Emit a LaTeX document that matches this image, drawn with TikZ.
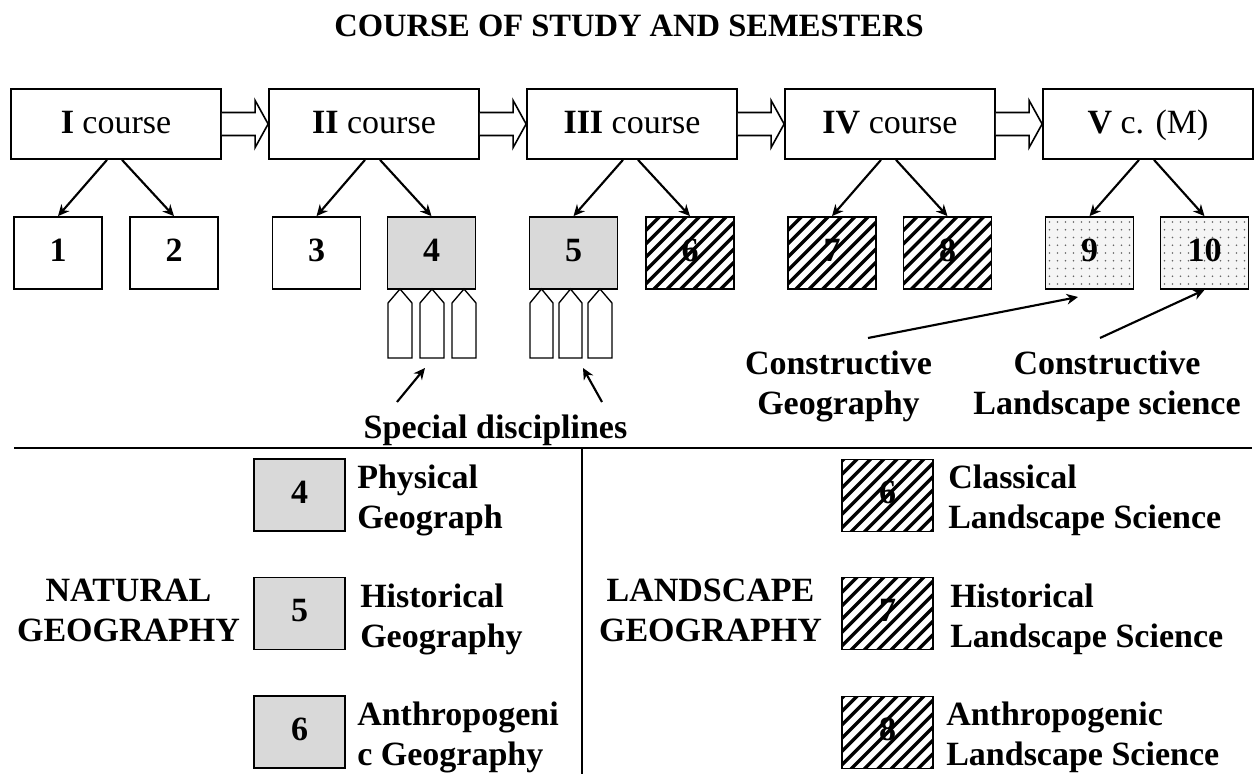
\documentclass[tikz,border=0pt]{standalone}
\usepackage{fontspec}
\setmainfont{Liberation Serif}
\usetikzlibrary{arrows.meta,calc}

\newcommand{\blkarrow}[2]{%
  \draw[blockarr] ($(#1.east)+(0,-11.5)$) -- ($(#2.west)+(-13,-11.5)$) -- ($(#2.west)+(-13,-23.5)$) -- (#2.west) -- ($(#2.west)+(-13,23.5)$) -- ($(#2.west)+(-13,11.5)$) -- ($(#1.east)+(0,11.5)$);}
\newcommand{\pentshape}[2]{%
  \draw[line width=1pt, fill=white] (#1,358) -- (#1,303) -- ({(#1+#2)/2},289) -- (#2,303) -- (#2,358) -- cycle;}

\begin{document}
\begin{tikzpicture}[x=0.75pt,y=-0.75pt,
  every node/.style={inner sep=0pt, font=\fontsize{25.5}{30}\selectfont},
  bold/.style={font=\fontsize{25.5}{30}\selectfont\bfseries},
  coursebox/.style={draw, line width=1.3pt, minimum width=157.5pt, minimum height=52.5pt, text height=20pt, text depth=6.5pt},
  numbox/.style={draw, line width=1.3pt, minimum width=66pt, minimum height=54pt, bold, text height=18pt, text depth=6pt},
  legbox/.style={numbox, minimum width=68.25pt},
  grayfill/.style={fill=gray!30},
  hatched/.style={fill=white, path picture={
      \foreach \k in {-10,...,10}{
        \draw[line width=2.5pt] ($(path picture bounding box.center)+(\k*10pt,0pt)+(-60pt,-60pt)$) -- ++(120pt,120pt);}}},
  dotbox/.style={fill=black!4, path picture={
      \foreach \i in {-7,...,7}{\foreach \j in {-6,...,6}{
        \fill[black!60] ($(path picture bounding box.center)+(\i*6pt,\j*5.8pt)$) circle[radius=0.65pt];}}}},
  arr/.style={line width=1.6pt, -{Stealth[length=8.5pt,width=8pt]}},
  blockarr/.style={draw, line width=1.2pt, fill=white},
  legtext/.style={align=left, anchor=west, bold},
  grouptext/.style={align=center, bold},
  divider/.style={line width=1.2pt}
  ]
\useasboundingbox (0,0) rectangle (1258,774);

% title
\node (title) [anchor=base, font=\fontsize{24.4}{29}\selectfont\bfseries] at (629,37) {COURSE OF STUDY AND SEMESTERS};

% courses
\node (c1) [coursebox] at (116,124) {\textbf{I} course};
\node (c2) [coursebox] at (374,124) {\textbf{II} course};
\node (c3) [coursebox] at (632,124) {\textbf{III} course};
\node (c4) [coursebox] at (890,124) {\textbf{IV} course};
\node (c5) [coursebox] at (1148,124) {\textbf{V} c. (M)};

\blkarrow{c1}{c2}
\blkarrow{c2}{c3}
\blkarrow{c3}{c4}
\blkarrow{c4}{c5}

% semesters
\node (n1) [numbox] at (58,253) {1};
\node (n2) [numbox] at (174,253) {2};
\node (n3) [numbox] at (316.5,253) {3};
\node (n4) [numbox, grayfill] at (431.5,253) {4};
\node (n5) [numbox, grayfill] at (573.5,253) {5};
\node (n6) [numbox, hatched] at (690,253) {6};
\node (n7) [numbox, hatched] at (832,253) {7};
\node (n8) [numbox, hatched] at (947.5,253) {8};
\node (n9) [numbox, dotbox] at (1089.5,253) {9};
\node (n10) [numbox, dotbox] at (1204.5,253) {10};

\draw[arr] ([xshift=-6.75pt]c1.south) -- (n1.north);
\draw[arr] ([xshift=4.5pt]c1.south) -- (n2.north);
\draw[arr] ([xshift=-6.75pt]c2.south) -- (n3.north);
\draw[arr] ([xshift=4.5pt]c2.south) -- (n4.north);
\draw[arr] ([xshift=-6.75pt]c3.south) -- (n5.north);
\draw[arr] ([xshift=4.5pt]c3.south) -- (n6.north);
\draw[arr] ([xshift=-6.75pt]c4.south) -- (n7.north);
\draw[arr] ([xshift=4.5pt]c4.south) -- (n8.north);
\draw[arr] ([xshift=-6.75pt]c5.south) -- (n9.north);
\draw[arr] ([xshift=4.5pt]c5.south) -- (n10.north);

% special disciplines
\pentshape{388}{412}
\pentshape{420}{444}
\pentshape{452}{476}
\pentshape{530}{553}
\pentshape{559}{582}
\pentshape{588}{612}

\node (sd) [anchor=base, bold] at (495.5,438) {Special disciplines};
\coordinate (sdA) at (397,402);
\coordinate (sdAe) at (425,368);
\coordinate (sdB) at (602,402);
\coordinate (sdBe) at (583,368);
\draw[arr] (sdA) -- (sdAe);
\draw[arr] (sdB) -- (sdBe);

% constructive
\node (cg) [grouptext] at (838.5,386) {Constructive\\Geography};
\node (cl) [grouptext] at (1107,386) {Constructive\\Landscape science};
\coordinate (cgA) at (868,338);
\coordinate (cgAe) at (1078,297);
\coordinate (clA) at (1100,338);
\draw[arr] (cgA) -- (cgAe);
\draw[arr] (clA) -- (n10.south);

% dividers
\coordinate (hl) at (14,448);
\coordinate (hr) at (1252,448);
\coordinate (vt) at (582,448);
\coordinate (vb) at (582,774);
\draw[divider] (hl) -- (hr);
\draw[divider] (vt) -- (vb);

% legend left
\node (natural) [grouptext] at (128.5,610) {NATURAL\\GEOGRAPHY};
\node (l4) [legbox, grayfill] at (299.5,495) {4};
\node (l5) [legbox, grayfill] at (299.5,613.5) {5};
\node (l6) [legbox, grayfill] at (299.5,732) {6};
\node (t4) [legtext] at (357,500) {Physical\\Geograph};
\node (t5) [legtext] at (360,619) {Historical\\Geography};
\node (t6) [legtext] at (357,737) {Anthropogeni\\c Geography};

% legend right
\node (landscape) [grouptext] at (710.5,610) {LANDSCAPE\\GEOGRAPHY};
\node (r6) [legbox, hatched] at (887.5,495.5) {6};
\node (r7) [legbox, hatched] at (887.5,613.5) {7};
\node (r8) [legbox, hatched] at (887.5,732.5) {8};
\node (s6) [legtext] at (948,500) {Classical\\Landscape Science};
\node (s7) [legtext] at (950,619) {Historical\\Landscape Science};
\node (s8) [legtext] at (946,737) {Anthropogenic\\Landscape Science};
\end{tikzpicture}
\end{document}
